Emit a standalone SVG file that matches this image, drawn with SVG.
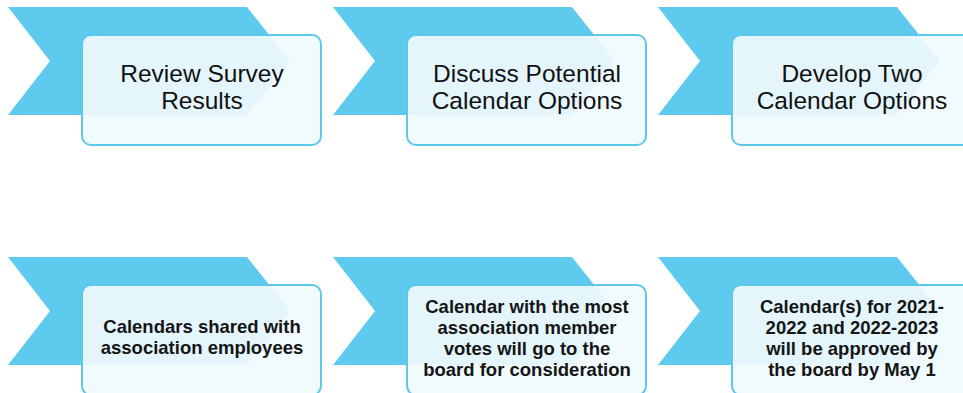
<svg xmlns="http://www.w3.org/2000/svg" width="963" height="393" viewBox="0 0 963 393">
<defs>
<style>
.chev{fill:#5ecbee;}
.box{fill:#f0fafd;fill-opacity:0.92;stroke:#5cc8ec;stroke-width:2;}
.t1{font-family:"Liberation Sans",Arial,sans-serif;font-size:24.5px;fill:#111;text-anchor:middle;}
.t2{font-family:"Liberation Sans",Arial,sans-serif;font-size:18.5px;font-weight:bold;fill:#151515;text-anchor:middle;}
</style>
<path id="chev" d="M0,0 H239 L282,54 L239,108 H0 L42,54 Z"/>
</defs>
<g id="connectors"></g>
<g id="step1">
<use href="#chev" class="chev" x="8" y="7"/>
<rect class="box" x="82" y="35" width="239" height="110" rx="9"/>
<text class="t1" x="202" y="82">Review Survey</text>
<text class="t1" x="202" y="109">Results</text>
</g>
<g id="step2">
<use href="#chev" class="chev" x="333" y="7"/>
<rect class="box" x="407" y="35" width="239" height="110" rx="9"/>
<text class="t1" x="527" y="82">Discuss Potential</text>
<text class="t1" x="527" y="109">Calendar Options</text>
</g>
<g id="step3">
<use href="#chev" class="chev" x="658" y="7"/>
<rect class="box" x="732" y="35" width="239" height="110" rx="9"/>
<text class="t1" x="852" y="82">Develop Two</text>
<text class="t1" x="852" y="109">Calendar Options</text>
</g>
<g id="step4">
<use href="#chev" class="chev" x="8" y="257"/>
<rect class="box" x="82" y="285" width="239" height="110" rx="9"/>
<text class="t2" x="202" y="333">Calendars shared with</text>
<text class="t2" x="202" y="354">association employees</text>
</g>
<g id="step5">
<use href="#chev" class="chev" x="333" y="257"/>
<rect class="box" x="407" y="285" width="239" height="110" rx="9"/>
<text class="t2" x="527" y="313">Calendar with the most</text>
<text class="t2" x="527" y="334">association member</text>
<text class="t2" x="527" y="355">votes will go to the</text>
<text class="t2" x="527" y="376">board for consideration</text>
</g>
<g id="step6">
<use href="#chev" class="chev" x="658" y="257"/>
<rect class="box" x="732" y="285" width="239" height="110" rx="9"/>
<text class="t2" x="852" y="313">Calendar(s) for 2021-</text>
<text class="t2" x="852" y="334">2022 and 2022-2023</text>
<text class="t2" x="852" y="355">will be approved by</text>
<text class="t2" x="852" y="376">the board by May 1</text>
</g>
</svg>
